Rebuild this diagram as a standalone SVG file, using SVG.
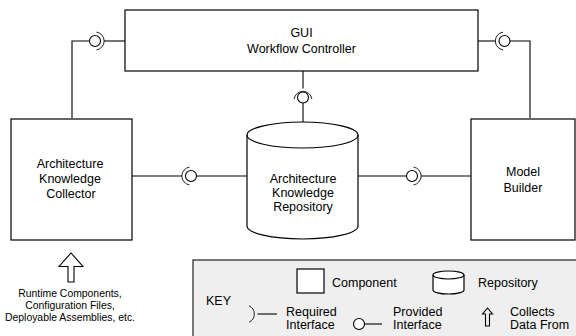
<svg xmlns="http://www.w3.org/2000/svg" width="576" height="336" viewBox="0 0 576 336">
<style>
.box{fill:#fff;stroke:#000;stroke-width:1.2}
.ln{fill:none;stroke:#000;stroke-width:1.1}
.ball{fill:#fff;stroke:#000;stroke-width:1.1}
.sock{fill:none;stroke:#222;stroke-width:1}
text{font-family:"Liberation Sans",Arial,sans-serif;font-size:12.5px;fill:#000;text-anchor:middle}
.sm{font-size:10.4px}
.k{text-anchor:start}
</style>
<rect width="576" height="336" fill="#fff"/>
<g id="connectors">
<polyline class="ln" points="72,118 72,41 89.5,41"/>
<line class="ln" x1="104" y1="41" x2="125" y2="41"/>
<circle class="ball" cx="95" cy="41" r="5.5"/>
<path class="sock" d="M96.5,32.1 A9,9 0 0 1 96.5,49.9"/>
<line class="ln" x1="478" y1="41" x2="495.5" y2="41"/>
<polyline class="ln" points="510,41 530,41 530,118"/>
<circle class="ball" cx="504.5" cy="41" r="5.5"/>
<path class="sock" d="M503,32.1 A9,9 0 0 0 503,49.9"/>
<line class="ln" x1="303" y1="71" x2="303" y2="88.5"/>
<line class="ln" x1="303" y1="103" x2="303" y2="122"/>
<circle class="ball" cx="303" cy="97.5" r="5.5"/>
<path class="sock" d="M294.1,99 A9,9 0 0 1 311.9,99"/>
<line class="ln" x1="132" y1="176" x2="182" y2="176"/>
<line class="ln" x1="196.5" y1="176" x2="247" y2="176"/>
<circle class="ball" cx="191" cy="176" r="5.5"/>
<path class="sock" d="M189.5,167.1 A9,9 0 0 0 189.5,184.9"/>
<line class="ln" x1="358" y1="176" x2="406.5" y2="176"/>
<line class="ln" x1="421" y1="176" x2="471" y2="176"/>
<circle class="ball" cx="412" cy="176" r="5.5"/>
<path class="sock" d="M413.5,167.1 A9,9 0 0 1 413.5,184.9"/>
</g>
<g id="gui">
<rect class="box" x="125" y="10" width="353" height="61"/>
<text x="301.5" y="37">GUI</text>
<text x="301.5" y="53">Workflow Controller</text>
</g>
<g id="collector">
<rect class="box" x="11" y="119" width="121" height="121"/>
<text x="70" y="168">Architecture</text>
<text x="70" y="183">Knowledge</text>
<text x="71" y="198">Collector</text>
</g>
<g id="builder">
<rect class="box" x="471" y="119" width="104" height="121"/>
<text x="523" y="176">Model</text>
<text x="523" y="192">Builder</text>
</g>
<g id="repository">
<path class="box" d="M247,135 A55.5,13 0 0 1 358,135 L358,226 A55.5,13 0 0 1 247,226 Z"/>
<path class="ln" d="M247,135 A55.5,13 0 0 0 358,135"/>
<text x="303" y="183">Architecture</text>
<text x="303" y="197">Knowledge</text>
<text x="303" y="211">Repository</text>
</g>
<g id="sources">
<polygon class="ln" points="71,253 83,266.5 74,266.5 74,282 68,282 68,266.5 59,266.5"/>
<text class="sm" x="70" y="297">Runtime Components,</text>
<text class="sm" x="70" y="309">Configuration Files,</text>
<text class="sm" x="70" y="321">Deployable Assemblies, etc.</text>
</g>
<g id="key">
<rect x="193" y="260" width="390" height="80" fill="#efefef" stroke="#222" stroke-width="1.2"/>
<text class="k" x="206" y="305">KEY</text>
<rect class="box" x="297" y="269" width="27" height="24"/>
<text class="k" x="332" y="287">Component</text>
<path class="box" d="M433,275 A15.5,4 0 0 1 464,275 L464,290 A15.5,4 0 0 1 433,290 Z"/>
<path class="ln" d="M433,275 A15.5,4 0 0 0 464,275"/>
<text class="k" x="478" y="287">Repository</text>
<path class="sock" d="M249,305.8 A9,9 0 0 1 249,322.2"/>
<line class="ln" x1="257.5" y1="314" x2="277" y2="314"/>
<text class="k" x="286" y="316">Required</text>
<text class="k" x="286" y="329">Interface</text>
<circle class="ball" cx="359" cy="324" r="5.5"/>
<line class="ln" x1="364.5" y1="324" x2="382" y2="324"/>
<text class="k" x="393" y="316">Provided</text>
<text class="k" x="393" y="329">Interface</text>
<polygon class="ln" points="487.5,308 492.5,314 489.5,314 489.5,326 485.5,326 485.5,314 482.5,314"/>
<text class="k" x="510" y="316">Collects</text>
<text class="k" x="510" y="329">Data From</text>
</g>
</svg>
